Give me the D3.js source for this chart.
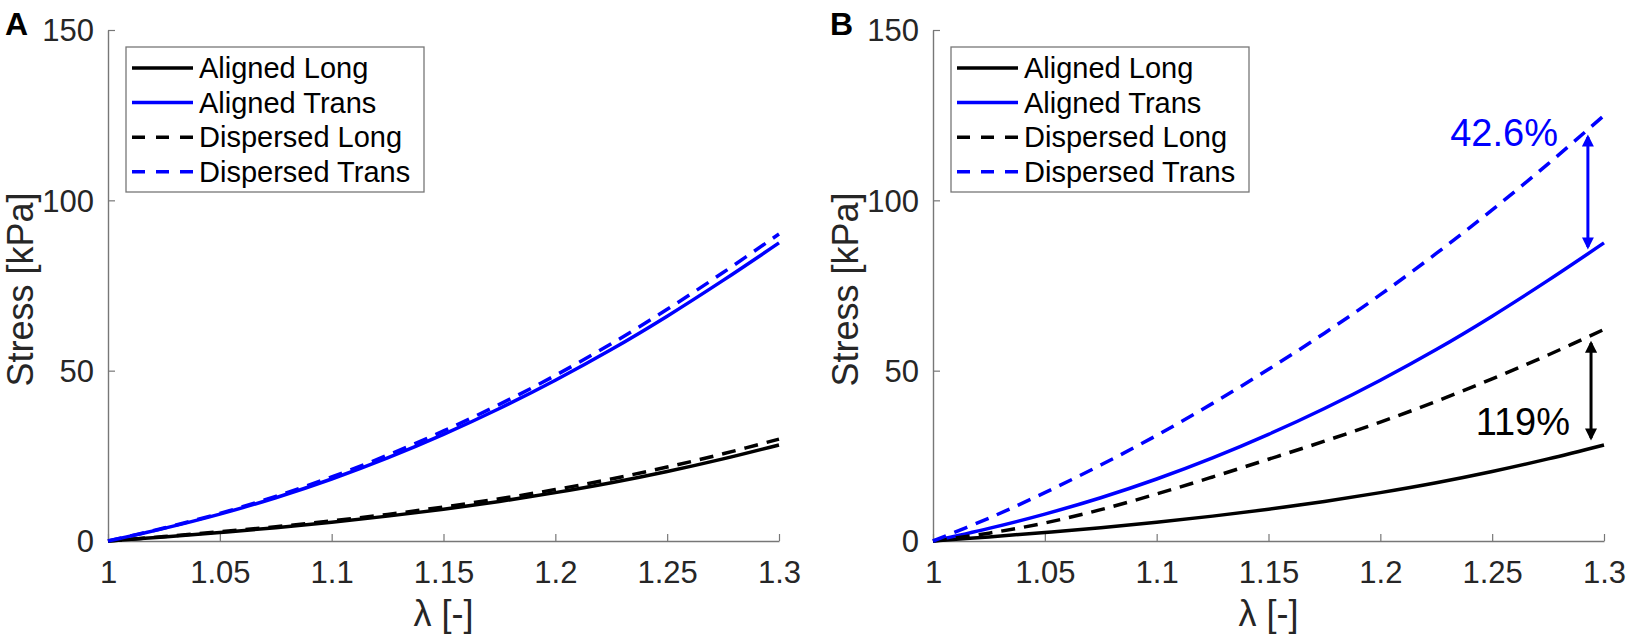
<!DOCTYPE html>
<html lang="en">
<head>
  <meta charset="UTF-8">
  <title>Stress vs stretch</title>
  <script src="https://d3js.org/d3.v7.min.js"></script>
  <style>
    body { margin: 0; background: white; }
    svg { display: block; font-family: "Liberation Sans", Arial, sans-serif; }
    .tick-label { font-size: 31px; fill: #262626; }
    .axis-title { font-size: 36px; fill: #262626; }
    .legend-text { font-size: 29px; fill: #000; }
    .panel-label { font-size: 32px; font-weight: bold; fill: #000; }
    .note { font-size: 38px; }
  </style>
</head>
<body>
<svg width="1627" height="635"></svg>
<script>
// stretch values (x) shared by every curve
const lambda = [1, 1.025, 1.05, 1.075, 1.1, 1.125, 1.15, 1.175, 1.2, 1.225, 1.25, 1.275, 1.3];

// stress [kPa]
const alignedLong     = [0, 1.2, 2.5, 3.9, 5.5, 7.3, 9.3, 11.6, 14.2, 17.1, 20.4, 24.1, 28.2];
const alignedTrans    = [0, 3.7, 7.9, 12.7, 18.2, 24.4, 31.3, 38.9, 47.2, 56.2, 66.0, 76.5, 87.5];
const dispersedLongA  = [0, 1.3, 2.7, 4.2, 5.9, 7.8, 10.0, 12.4, 15.1, 18.2, 21.7, 25.6, 29.9];
const dispersedTransA = [0, 3.8, 8.1, 13.1, 18.8, 25.2, 32.3, 40.1, 48.6, 57.9, 68.0, 78.8, 90.1];
const dispersedLongB  = [0, 2.3, 5.3, 9.2, 13.8, 18.8, 24.0, 29.3, 34.9, 41.0, 47.6, 54.6, 62.1];
const dispersedTransB = [0, 6.7, 14.2, 22.3, 31.0, 40.4, 50.4, 61.0, 72.3, 84.4, 97.2, 110.7, 124.9];

const seriesNames = ["Aligned Long", "Aligned Trans", "Dispersed Long", "Dispersed Trans"];
const seriesColors = ["#000000", "#0000ff", "#000000", "#0000ff"];
const seriesDashed = [false, false, true, true];

const xTicks = [1, 1.05, 1.1, 1.15, 1.2, 1.25, 1.3];
const xTickLabels = ["1", "1.05", "1.1", "1.15", "1.2", "1.25", "1.3"];
const yTicks = [0, 50, 100, 150];

// panel B annotations: [lambda, from, to]
const noteArrows = [[1.2928, 118.6, 86.3], [1.2942, 58.1, 30.2]];
const noteTexts = ["42.6%", "119%"];
const notePos = [[1.2794, 115.9], [1.2848, 31.1]];
const noteColors = ["#0000ff", "#000000"];

const panels = [
  { label: "A", left: 108, right: 779, series: [alignedLong, alignedTrans, dispersedLongA, dispersedTransA], notes: false },
  { label: "B", left: 933, right: 1604, series: [alignedLong, alignedTrans, dispersedLongB, dispersedTransB], notes: true }
];

const plotTop = 30, plotBottom = 541;
const svg = d3.select("svg");

// arrow heads
const defs = svg.append("defs");
noteColors.forEach((c, i) => {
  defs.append("marker")
    .attr("id", "head" + i)
    .attr("viewBox", "0 0 10 10")
    .attr("refX", 8).attr("refY", 5)
    .attr("markerWidth", 4.2).attr("markerHeight", 4)
    .attr("markerUnits", "strokeWidth")
    .attr("orient", "auto-start-reverse")
    .append("path")
    .attr("d", "M0,0 L10,5 L0,10 Z")
    .attr("fill", c);
});

panels.forEach(p => {
  const x = d3.scaleLinear().domain([1, 1.3]).range([p.left, p.right]);
  const y = d3.scaleLinear().domain([0, 150]).range([plotBottom, plotTop]);
  const g = svg.append("g");

  // axes (MATLAB style, ticks inside, no box)
  const xAxis = g.append("g")
    .attr("transform", `translate(0,${plotBottom})`)
    .call(d3.axisBottom(x).tickValues(xTicks).tickSizeInner(-7).tickSizeOuter(0).tickFormat((d, i) => xTickLabels[i]));
  xAxis.attr("font-family", null).attr("font-size", null);
  xAxis.select(".domain").attr("stroke", "#777").attr("stroke-width", 1.4);
  xAxis.selectAll(".tick line").attr("stroke", "#777").attr("stroke-width", 1.2);
  xAxis.selectAll(".tick text").attr("class", "tick-label").attr("y", 42).attr("dy", null).attr("fill", null);

  const yAxis = g.append("g")
    .attr("transform", `translate(${p.left},0)`)
    .call(d3.axisLeft(y).tickValues(yTicks).tickSizeInner(-7).tickSizeOuter(0));
  yAxis.attr("font-family", null).attr("font-size", null);
  yAxis.select(".domain").attr("stroke", "#777").attr("stroke-width", 1.4);
  yAxis.selectAll(".tick line").attr("stroke", "#777").attr("stroke-width", 1.2);
  yAxis.selectAll(".tick text").attr("class", "tick-label").attr("x", -14).attr("dy", "0.35em").attr("fill", null);

  g.append("text").attr("class", "axis-title")
    .attr("x", (p.left + p.right) / 2).attr("y", 626)
    .attr("text-anchor", "middle")
    .text("λ [-]");

  g.append("text").attr("class", "axis-title")
    .attr("transform", `translate(${p.left - 75},${(plotTop + plotBottom) / 2 + 4}) rotate(-90)`)
    .attr("text-anchor", "middle")
    .text("Stress [kPa]");

  g.append("text").attr("class", "panel-label")
    .attr("x", p.left - 103).attr("y", 35)
    .text(p.label);

  // curves
  const line = d3.line().x(d => x(d[0])).y(d => y(d[1])).curve(d3.curveCatmullRom.alpha(0.5));
  p.series.forEach((vals, i) => {
    g.append("path")
      .datum(lambda.map((l, k) => [l, vals[k]]))
      .attr("d", line)
      .attr("fill", "none")
      .attr("stroke", seriesColors[i])
      .attr("stroke-width", 3.5)
      .attr("stroke-dasharray", seriesDashed[i] ? "14,9" : null);
  });

  // legend
  const lx = p.left + 18, ly = 47, rowH = 34.6;
  const leg = g.append("g");
  leg.append("rect")
    .attr("x", lx).attr("y", ly).attr("width", 298).attr("height", 145)
    .attr("fill", "white").attr("stroke", "#777").attr("stroke-width", 1.3);
  seriesNames.forEach((name, i) => {
    const cy = ly + 21 + i * rowH;
    leg.append("line")
      .attr("x1", lx + 6).attr("x2", lx + 67).attr("y1", cy).attr("y2", cy)
      .attr("stroke", seriesColors[i]).attr("stroke-width", 3.5)
      .attr("stroke-dasharray", seriesDashed[i] ? "13,11" : null);
    leg.append("text").attr("class", "legend-text")
      .attr("x", lx + 73).attr("y", cy).attr("dy", "0.35em")
      .text(name);
  });

  if (p.notes) {
    noteArrows.forEach((a, i) => {
      g.append("line")
        .attr("x1", x(a[0])).attr("x2", x(a[0]))
        .attr("y1", y(a[1])).attr("y2", y(a[2]))
        .attr("stroke", noteColors[i]).attr("stroke-width", 3)
        .attr("marker-start", `url(#head${i})`)
        .attr("marker-end", `url(#head${i})`);
      g.append("text").attr("class", "note")
        .attr("x", x(notePos[i][0])).attr("y", y(notePos[i][1]))
        .attr("text-anchor", "end")
        .attr("fill", noteColors[i])
        .text(noteTexts[i]);
    });
  }
});
</script>
</body>
</html>
